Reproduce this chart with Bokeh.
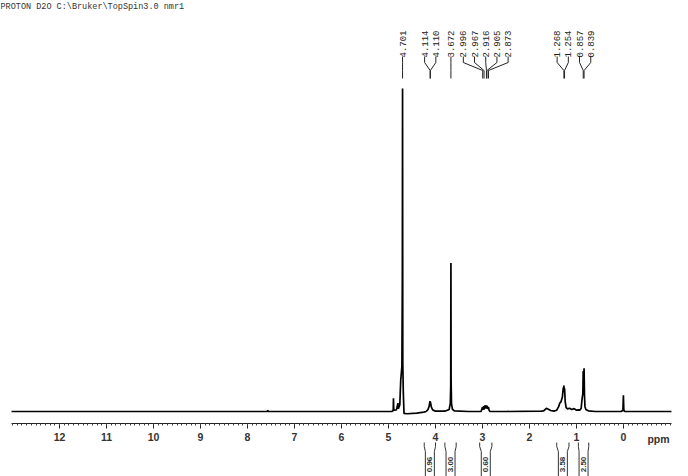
import math
from bokeh.plotting import figure
from bokeh.models import Range1d, LinearAxis, FixedTicker, ColumnDataSource
from bokeh.core.properties import value
from bokeh.embed import file_html
from bokeh.resources import INLINE

# ---------------- data ----------------
title_text = "PROTON D2O C:\\Bruker\\TopSpin3.0 nmr1"

# spectrum trace (ppm, relative intensity; 100 = tallest peak)
spec_ppm = [13.02, 8.00, 7.58, 7.57, 7.56, 5.00, 4.93, 4.90, 4.894, 4.888, 4.83, 4.80, 4.79,
            4.76, 4.74, 4.715, 4.706, 4.701, 4.696, 4.685, 4.67, 4.60, 4.40, 4.25,
            4.20, 4.16, 4.135, 4.118, 4.112, 4.108, 4.09, 4.06, 4.00,
            3.80, 3.71, 3.685, 3.676, 3.672, 3.668, 3.66, 3.64, 3.60,
            3.30, 3.05, 3.03, 3.00, 2.996, 2.99, 2.97, 2.967, 2.96, 2.94, 2.93, 2.916,
            2.91, 2.905, 2.89, 2.873, 2.86, 2.84,
            2.50, 1.75, 1.70, 1.64, 1.60, 1.55, 1.48,
            1.42, 1.38, 1.355, 1.33, 1.30, 1.28, 1.275, 1.268, 1.26, 1.254, 1.24, 1.22,
            1.19, 1.15, 1.10, 1.05, 1.00, 0.95,
            0.93, 0.90, 0.885, 0.865, 0.857, 0.85, 0.845, 0.839, 0.83, 0.82, 0.80, 0.75, 0.60,
            0.05, 0.012, 0.002, -0.006, -0.02, -1.02]
spec_int = [0.0, 0.0, 0.0, 0.4, 0.0, 0.0, 0.0, 0.3, 4.1, 0.4, 0.5, 2.6, 0.9,
            2.0, 9.6, 14.0, 40.0, 100.0, 15.0, 6.0, -0.6, -0.7, -0.5, -0.2,
            0.0, 0.6, 1.6, 3.2, 2.6, 3.0, 1.4, 0.5, 0.1,
            0.1, 0.6, 2.5, 8.0, 46.0, 10.0, 2.5, 0.7, 0.2,
            0.0, 0.0, 0.0, 1.3, 0.5, 1.2, 1.5, 0.6, 1.6, 1.8, 0.9, 1.9,
            1.0, 1.7, 0.8, 1.4, 0.4, 0.0,
            0.0, 0.1, 0.2, 1.0, 0.7, 0.3, 0.1,
            0.4, 1.5, 2.6, 3.0, 4.5, 7.5, 6.0, 8.0, 6.5, 7.2, 3.0, 1.2,
            0.8, 1.0, 0.6, 0.9, 0.4, 0.5,
            0.4, 1.0, 3.5, 5.5, 12.5, 8.0, 11.0, 13.4, 5.0, 1.5, 0.6, 0.2, 0.0,
            0.0, 0.4, 5.0, 0.6, 0.0, 0.0]

peak_labels = [4.701, 4.114, 4.110, 3.672, 2.996, 2.967, 2.916, 2.905, 2.873,
               1.268, 1.254, 0.857, 0.839]

int_hi = [4.24, 3.80, 3.06, 1.42, 0.96]
int_lo = [4.00, 3.56, 2.80, 1.16, 0.74]
int_val = ["0.96", "3.00", "0.60", "3.58", "2.50"]

major_ticks = [0, 1, 2, 3, 4, 5, 6, 7, 8, 9, 10, 11, 12]
minor_ticks = [round(-1.0 + 0.1 * i, 1) for i in range(141)]
axis_bounds = (-1.02, 13.02)
unit_label = "ppm"

# ---------------- geometry ----------------
W, H = 688, 476
PX_PER_PPM = 47.0
X_LEFT = 623.0 / PX_PER_PPM
PX_PER_UNIT = 3.23
BASE_PAGE = 411.0          # pixel row of the baseline
AXIS_PAGE = 423.0          # pixel row of the ppm axis


def yp(page_y):
    return (BASE_PAGE - page_y) / PX_PER_UNIT


p = figure(width=W, height=H, output_backend="svg", toolbar_location=None,
           x_range=Range1d(X_LEFT, X_LEFT - W / PX_PER_PPM),
           y_range=Range1d(yp(H), yp(0)),
           x_axis_type=None, y_axis_type=None, min_border=0)
p.outline_line_color = None
p.background_fill_color = "white"
p.border_fill_color = "white"

ax = LinearAxis(ticker=FixedTicker(ticks=major_ticks, minor_ticks=minor_ticks),
                bounds=axis_bounds, fixed_location=yp(AXIS_PAGE))
ax.axis_line_color = "#222222"
ax.major_tick_line_color = "#222222"
ax.minor_tick_line_color = "#444444"
ax.major_tick_in = 0
ax.major_tick_out = 5
ax.minor_tick_in = 0
ax.minor_tick_out = 2
ax.major_label_standoff = 4
ax.major_label_text_font = "Liberation Sans"
ax.major_label_text_font_style = "bold"
ax.major_label_text_font_size = "10.5px"
ax.major_label_text_color = "#333333"
p.add_layout(ax, "below")

# spectrum
p.line(spec_ppm, spec_int, line_color="black", line_width=1.7)

# title
p.text(x=[X_LEFT], y=[yp(1.5)], text=[title_text], text_align="left",
       text_baseline="top", text_font=value("Liberation Mono"),
       text_font_size="8.5px", text_color="#333333")

# --- peak labels: spread so that they don't overlap ---
gap = 11.2 / PX_PER_PPM
pk = sorted(peak_labels, reverse=True)
clusters = [[v] for v in pk]


def cl_pos(c):
    m = sum(c) / len(c)
    n = len(c)
    return [m + gap * (n - 1) / 2 - gap * i for i in range(n)]


changed = True
while changed:
    changed = False
    for i in range(len(clusters) - 1):
        a = cl_pos(clusters[i])
        b = cl_pos(clusters[i + 1])
        if a[-1] - b[0] < gap - 1e-9:
            clusters[i] = clusters[i] + clusters[i + 1]
            del clusters[i + 1]
            changed = True
            break
lab_pos = []
for c in clusters:
    lab_pos += cl_pos(c)

lab_src = ColumnDataSource(dict(x=lab_pos, y=[yp(57)] * len(pk),
                                text=["%.3f" % v for v in pk]))
p.text(x="x", y="y", text="text", source=lab_src, angle=math.pi / 2,
       text_align="left", text_baseline="middle", text_font=value("Liberation Mono"),
       text_font_size="9px", text_color="#222222")
xs = [[lx, lx, px, px] for lx, px in zip(lab_pos, pk)]
ys = [[yp(56), yp(62), yp(70), yp(78)] for _ in pk]
p.multi_line(xs, ys, line_color="#222222", line_width=1)

# --- integrals below the axis ---
half_box = 4.5 / PX_PER_PPM
bx, by, tx, ty = [], [], [], []
for hi, lo in zip(int_hi, int_lo):
    c = (hi + lo) / 2
    bl, br = c + half_box, c - half_box
    bx += [[hi, hi, bl, bl], [lo, lo, br, br]]
    by += [[yp(442), yp(446), yp(451), yp(480)]] * 2
    tx.append(c)
    ty.append(yp(464))
p.multi_line(bx, by, line_color="#333333", line_width=1)
p.text(x=tx, y=ty, text=int_val, angle=math.pi / 2, text_align="center",
       text_baseline="middle", text_font=value("Liberation Sans"),
       text_font_style="bold", text_font_size="8px", text_color="#333333")

# ppm unit label
p.text(x=[-0.745], y=[yp(438)], text=[unit_label], text_align="center",
       text_baseline="middle", text_font=value("Liberation Sans"),
       text_font_style="bold", text_font_size="10.5px", text_color="#333333")

open("out.html", "w").write(file_html(p, INLINE))
